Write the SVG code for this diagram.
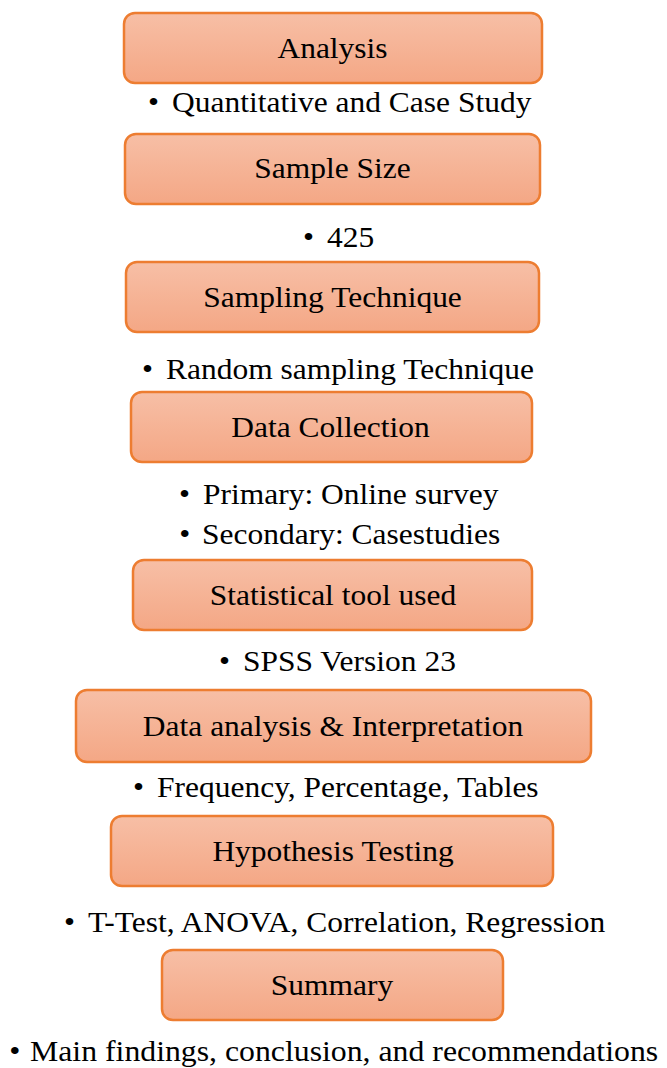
<svg xmlns="http://www.w3.org/2000/svg" width="667" height="1068" viewBox="0 0 667 1068">
<defs>
<linearGradient id="g" x1="0" y1="0" x2="0" y2="1">
<stop offset="0" stop-color="#f7bfa6"/>
<stop offset="1" stop-color="#f4a785"/>
</linearGradient>
<style>
.box{fill:url(#g);stroke:#ed7d31;stroke-width:2.5}
.t{font-family:"Liberation Serif","Times New Roman",serif;font-size:29px;fill:#000}
.c{text-anchor:middle}
</style>
</defs>
<rect width="667" height="1068" fill="#fff"/>
<g id="connectors"></g>
<g id="n1"><rect class="box" x="124" y="13" width="418" height="70" rx="11"/><text class="t c" transform="translate(332.5 58) scale(1.086 1)" x="0" y="0">Analysis</text></g>
<g id="b1"><text class="t" transform="translate(172 112) scale(1.086 1)"><tspan x="-22" y="0">•</tspan><tspan x="0" y="0">Quantitative and Case Study</tspan></text></g>
<g id="n2"><rect class="box" x="125" y="134" width="415" height="70" rx="11"/><text class="t c" transform="translate(332.5 178) scale(1.086 1)" x="0" y="0">Sample Size</text></g>
<g id="b2"><text class="t" transform="translate(327 247) scale(1.086 1)"><tspan x="-22" y="0">•</tspan><tspan x="0" y="0">425</tspan></text></g>
<g id="n3"><rect class="box" x="126" y="262" width="413" height="70" rx="11"/><text class="t c" transform="translate(332.5 307) scale(1.086 1)" x="0" y="0">Sampling Technique</text></g>
<g id="b3"><text class="t" transform="translate(166 379) scale(1.086 1)"><tspan x="-22" y="0">•</tspan><tspan x="0" y="0">Random sampling Technique</tspan></text></g>
<g id="n4"><rect class="box" x="131" y="392" width="401" height="70" rx="11"/><text class="t c" transform="translate(330.5 437) scale(1.086 1)" x="0" y="0">Data Collection</text></g>
<g id="b4"><text class="t" transform="translate(203 504) scale(1.086 1)"><tspan x="-22" y="0">•</tspan><tspan x="0" y="0">Primary: Online survey</tspan></text><text class="t" transform="translate(202 544) scale(1.086 1)"><tspan x="-21" y="0">•</tspan><tspan x="0" y="0">Secondary: Casestudies</tspan></text></g>
<g id="n5"><rect class="box" x="133" y="560" width="399" height="70" rx="11"/><text class="t c" transform="translate(333 605) scale(1.086 1)" x="0" y="0">Statistical tool used</text></g>
<g id="b5"><text class="t" transform="translate(243 671) scale(1.086 1)"><tspan x="-22" y="0">•</tspan><tspan x="0" y="0">SPSS Version 23</tspan></text></g>
<g id="n6"><rect class="box" x="76" y="690" width="515" height="72" rx="11"/><text class="t c" transform="translate(333 736) scale(1.086 1)" x="0" y="0">Data analysis &amp; Interpretation</text></g>
<g id="b6"><text class="t" transform="translate(157 797) scale(1.086 1)"><tspan x="-22" y="0">•</tspan><tspan x="0" y="0">Frequency, Percentage, Tables</tspan></text></g>
<g id="n7"><rect class="box" x="111" y="816" width="442" height="70" rx="11"/><text class="t c" transform="translate(333 861) scale(1.086 1)" x="0" y="0">Hypothesis Testing</text></g>
<g id="b7"><text class="t" transform="translate(88 932) scale(1.086 1)"><tspan x="-22" y="0">•</tspan><tspan x="0" y="0">T-Test, ANOVA, Correlation, Regression</tspan></text></g>
<g id="n8"><rect class="box" x="162" y="950" width="341" height="70" rx="11"/><text class="t c" transform="translate(332 995) scale(1.086 1)" x="0" y="0">Summary</text></g>
<g id="b8"><text class="t" transform="translate(30 1061) scale(1.096 1)"><tspan x="-19" y="0">•</tspan><tspan x="0" y="0">Main findings, conclusion, and recommendations</tspan></text></g>
</svg>
